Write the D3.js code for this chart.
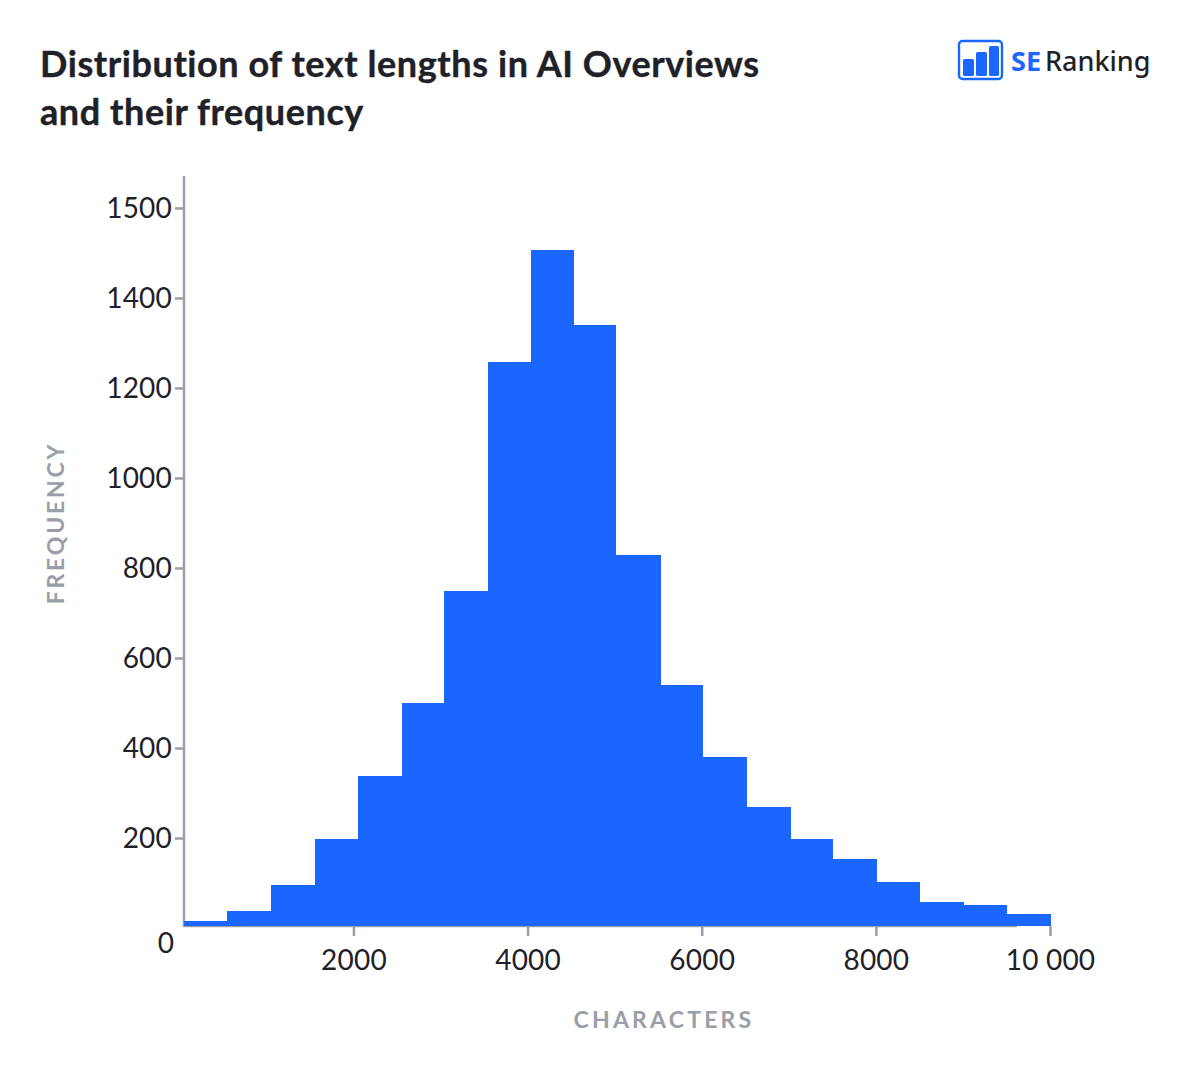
<!DOCTYPE html>
<html>
<head>
<meta charset="utf-8">
<script src="https://cdn.jsdelivr.net/npm/d3@7"></script>
<style>
  html, body { margin: 0; padding: 0; background: #fff; }
  svg { display: block; }
  .tick text { font-family: Lato, sans-serif; font-size: 28px; letter-spacing: 0.2px; fill: #1f2129; }
  .tick line { stroke: #9a9ea9; stroke-width: 2.5px; }
  .bar { shape-rendering: crispEdges; }
</style>
</head>
<body>
<svg id="chart"></svg>
<script>
// bin edges and counts
const binEdges = [54, 548, 1053, 1558, 2052, 2557, 3040, 3545, 4039, 4533, 5015, 5532, 6015, 6520, 7025, 7507, 8012, 8506, 9011, 9505, 10010];
const frequency = [11, 34, 93, 198, 338, 500, 749, 1258, 1507, 1340, 829, 540, 380, 269, 198, 152, 100, 55, 48, 27];

const xTicks = [2000, 4000, 6000, 8000, 10000];
const xTickLabels = ['2000', '4000', '6000', '8000', '10 000'];
// the top tick of the original sits one full step up but reads 1500
const yTicks = [200, 400, 600, 800, 1000, 1200, 1400, 1600];
const yTickLabels = ['200', '400', '600', '800', '1000', '1200', '1400', '1500'];

const titleLines = ['Distribution of text lengths in AI Overviews', 'and their frequency'];

const width = 1190, height = 1076;
const blue = '#1a66ff', gray = '#9a9ea9', dark = '#1f2129';

const svg = d3.select('#chart').attr('width', width).attr('height', height);

const xScale = d3.scaleLinear().domain([54, 10000]).range([184, 1050]);
const yScale = d3.scaleLinear().domain([0, 200, 1671]).range([926, 838, 176]);

// title
svg.selectAll('.title').data(titleLines).join('text')
    .attr('class', 'title')
    .attr('x', 40)
    .attr('y', (d, i) => 77 + i * 48)
    .attr('font-family', 'Lato, sans-serif')
    .attr('font-weight', 700)
    .attr('font-size', 36)
    .attr('letter-spacing', 0.58)
    .attr('fill', dark)
    .attr('stroke', dark)
    .attr('stroke-width', 0.4)
    .text(d => d);

// logo
const logo = svg.append('g').attr('transform', 'translate(958,40)');
logo.append('rect').attr('x', 1).attr('y', 1).attr('width', 43).attr('height', 38).attr('rx', 3.5)
    .attr('fill', 'none').attr('stroke', blue).attr('stroke-width', 2.4);
[[5, 19, 11, 17], [18, 12, 11, 24], [31, 6, 10, 30]].forEach(b => {
    logo.append('rect').attr('x', b[0]).attr('y', b[1]).attr('width', b[2]).attr('height', b[3]).attr('rx', 1.5).attr('fill', blue);
});
logo.append('text').attr('x', 53).attr('y', 31).attr('font-family', '"Noto Sans", sans-serif')
    .attr('font-weight', 700).attr('font-size', 27).attr('fill', blue).text('SE');
logo.append('text').attr('x', 87).attr('y', 31).attr('font-family', '"Noto Sans", sans-serif')
    .attr('font-weight', 500).attr('font-size', 27).attr('fill', dark).text('Ranking');

// axes
const xAxis = d3.axisBottom(xScale).tickValues(xTicks).tickSize(10).tickSizeOuter(0)
    .tickFormat((d, i) => xTickLabels[i]);
const yAxis = d3.axisLeft(yScale).tickValues(yTicks).tickSize(9).tickSizeOuter(0)
    .tickFormat((d, i) => yTickLabels[i]);

const xAxisG = svg.append('g').attr('class', 'axis x-axis').attr('transform', 'translate(0,926)').call(xAxis);
const yAxisG = svg.append('g').attr('class', 'axis y-axis').attr('transform', 'translate(184,0)').call(yAxis);

xAxisG.select('.domain').remove();
yAxisG.select('.domain').remove();
xAxisG.selectAll('.tick text').attr('y', 24);
yAxisG.selectAll('.tick text').attr('x', -12).attr('dy', '0.355em');

xAxisG.append('line').attr('x1', 184).attr('x2', xScale(9620))
    .attr('stroke', gray).attr('stroke-width', 2.5);
yAxisG.append('line').attr('y1', 176).attr('y2', 927)
    .attr('stroke', gray).attr('stroke-width', 2.5);

// bars
svg.selectAll('.bar').data(frequency).join('rect')
    .attr('class', 'bar')
    .attr('x', (d, i) => xScale(binEdges[i]))
    .attr('width', (d, i) => xScale(binEdges[i + 1]) - xScale(binEdges[i]))
    .attr('y', d => yScale(d))
    .attr('height', d => yScale(0) - yScale(d))
    .attr('fill', blue);

// zero label sits apart from both axes
svg.append('text').attr('x', 174).attr('y', 953).attr('text-anchor', 'end')
    .attr('font-family', 'Lato, sans-serif').attr('font-size', 28).attr('fill', dark).text('0');

// axis titles
svg.append('text').attr('x', 664).attr('y', 1028).attr('text-anchor', 'middle')
    .attr('font-family', 'Lato, sans-serif').attr('font-weight', 700).attr('font-size', 23)
    .attr('letter-spacing', 3.2).attr('fill', gray).text('CHARACTERS');
svg.append('text').attr('transform', 'translate(64,523) rotate(-90)').attr('text-anchor', 'middle')
    .attr('font-family', 'Lato, sans-serif').attr('font-weight', 700).attr('font-size', 23)
    .attr('letter-spacing', 2.8).attr('fill', gray).text('FREQUENCY');
</script>
</body>
</html>
